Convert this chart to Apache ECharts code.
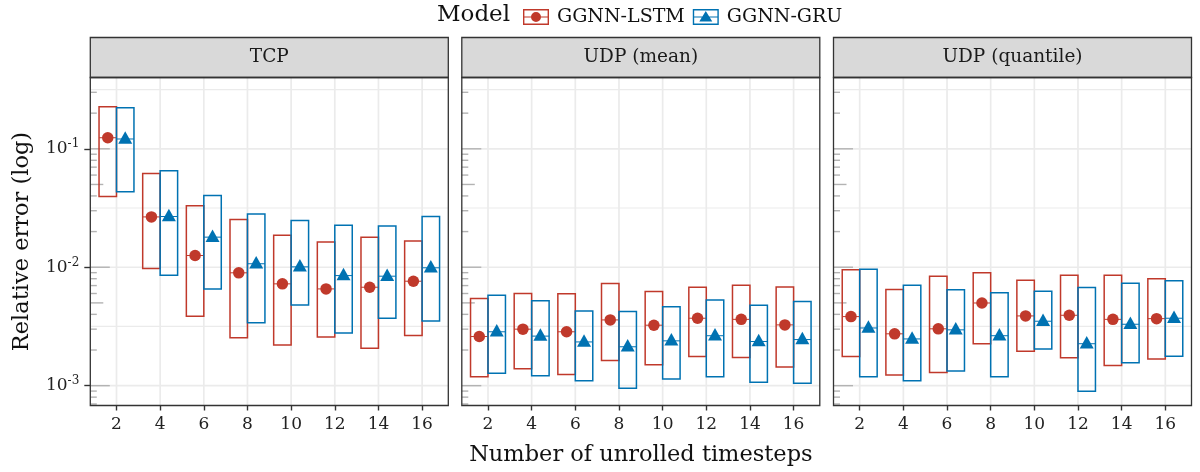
<!DOCTYPE html>
<html><head><meta charset="utf-8">
<script src="https://cdn.jsdelivr.net/npm/echarts@6/dist/echarts.min.js"></script>
<style>html,body{margin:0;padding:0;background:#fff}#c{width:1200px;height:472px}</style>
</head><body><div id="c"></div>
<script>
// ---------- data ----------
const categories = [2, 4, 6, 8, 10, 12, 14, 16];
const panelTitles = ['TCP', 'UDP (mean)', 'UDP (quantile)'];
const seriesNames = ['GGNN-LSTM', 'GGNN-GRU'];

const tcpLstmLow  = [0.0395, 0.00975, 0.00386, 0.00254, 0.0022, 0.00258, 0.00207, 0.00265];
const tcpLstmMid  = [0.124, 0.0266, 0.01256, 0.00897, 0.00724, 0.00656, 0.00678, 0.00762];
const tcpLstmHigh = [0.2265, 0.0618, 0.033, 0.0253, 0.01866, 0.01637, 0.01795, 0.01667];
const tcpGruLow   = [0.0434, 0.00855, 0.00656, 0.0034, 0.0048, 0.00279, 0.00371, 0.00352];
const tcpGruMid   = [0.121, 0.0268, 0.01795, 0.0107, 0.01007, 0.0085, 0.0084, 0.00989];
const tcpGruHigh  = [0.222, 0.0652, 0.0403, 0.0281, 0.0248, 0.0226, 0.0223, 0.0268];

const udpMeanLstmLow  = [0.00119, 0.00139, 0.00124, 0.00163, 0.0015, 0.00176, 0.00173, 0.00144];
const udpMeanLstmMid  = [0.0026, 0.0030, 0.00285, 0.00359, 0.00324, 0.00371, 0.00363, 0.00326];
const udpMeanLstmHigh = [0.00545, 0.0060, 0.00597, 0.00728, 0.00624, 0.00678, 0.00705, 0.00682];
const udpMeanGruLow   = [0.00127, 0.00121, 0.0011, 0.00095, 0.00114, 0.00119, 0.00107, 0.00105];
const udpMeanGruMid   = [0.00285, 0.00262, 0.00234, 0.00213, 0.00239, 0.00264, 0.00236, 0.00245];
const udpMeanGruHigh  = [0.00581, 0.0052, 0.00428, 0.00423, 0.00463, 0.0053, 0.00478, 0.00513];

const udpQuantLstmLow  = [0.00176, 0.00123, 0.00129, 0.00226, 0.00195, 0.00172, 0.00148, 0.00168];
const udpQuantLstmMid  = [0.00383, 0.00274, 0.00302, 0.00499, 0.00388, 0.00393, 0.00363, 0.00368];
const udpQuantLstmHigh = [0.0095, 0.00649, 0.0084, 0.00897, 0.00776, 0.00857, 0.00857, 0.00798];
const udpQuantGruLow   = [0.00119, 0.0011, 0.00133, 0.00119, 0.00204, 0.000896, 0.00156, 0.00177];
const udpQuantGruMid   = [0.00307, 0.00248, 0.00296, 0.00264, 0.0035, 0.00226, 0.0033, 0.00371];
const udpQuantGruHigh  = [0.0096, 0.00705, 0.00644, 0.00608, 0.00627, 0.00673, 0.00733, 0.00768];

const yTickValues = [0.001, 0.01, 0.1];
const yGridValues = [0.001, 0.003162, 0.01, 0.03162, 0.1, 0.3162];
const logTickValues = [0.0007, 0.0008, 0.0009,
  0.001, 0.002, 0.003, 0.004, 0.005, 0.006, 0.007, 0.008, 0.009,
  0.01, 0.02, 0.03, 0.04, 0.05, 0.06, 0.07, 0.08, 0.09,
  0.1, 0.2, 0.3];

// ---------- styling / layout ----------
const FONT = "'DejaVu Serif', serif";
const RED = '#c0392b', BLUE = '#0072b2';
const gridLefts = [90.3, 461.8, 833.5];
const gridTop = 77.5, gridW = 358, gridH = 328, stripH = 40;
const Y_MIN = 0.00068, Y_MAX = 0.4, X_MIN = 0.8, X_MAX = 17.2;
const DODGE = 0.4, HALF = 0.4;

const panelData = [
  [[tcpLstmLow, tcpLstmMid, tcpLstmHigh], [tcpGruLow, tcpGruMid, tcpGruHigh]],
  [[udpMeanLstmLow, udpMeanLstmMid, udpMeanLstmHigh], [udpMeanGruLow, udpMeanGruMid, udpMeanGruHigh]],
  [[udpQuantLstmLow, udpQuantLstmMid, udpQuantLstmHigh], [udpQuantGruLow, udpQuantGruMid, udpQuantGruHigh]]
];

function boxRenderer(color, offset) {
  return function (params, api) {
    const x = api.value(0) + offset;
    const lo = api.value(1), mid = api.value(2), hi = api.value(3);
    const a = api.coord([x - HALF, hi]);
    const b = api.coord([x + HALF, lo]);
    const m = api.coord([x - HALF, mid]);
    const n = api.coord([x + HALF, mid]);
    return {
      type: 'group', children: [
        { type: 'rect', shape: { x: a[0], y: a[1], width: b[0] - a[0], height: b[1] - a[1] },
          style: { fill: 'transparent', stroke: color, lineWidth: 1.5 } },
        { type: 'line', shape: { x1: m[0], y1: m[1], x2: n[0], y2: n[1] },
          style: { stroke: color, lineWidth: 1 } }
      ]
    };
  };
}

function isDecade(v) {
  const l = Math.log10(v);
  return Math.abs(l - Math.round(l)) < 0.01;
}

const grids = [], xAxes = [], yAxes = [], series = [], graphics = [];
gridLefts.forEach((left, k) => {
  grids.push({ left: left, top: gridTop, width: gridW, height: gridH, show: false });
  xAxes.push({
    type: 'value', gridIndex: k, min: X_MIN, max: X_MAX,
    axisLine: { show: false }, splitLine: { show: false },
    axisTick: { show: true, length: 5, lineStyle: { color: '#333', width: 1.4 }, customValues: categories },
    axisLabel: { show: true, customValues: categories, margin: 11,
      fontFamily: FONT, fontSize: 17, color: '#222' }
  });
  yAxes.push({
    type: 'log', logBase: 10, gridIndex: k, min: Y_MIN, max: Y_MAX,
    axisLine: { show: false }, splitLine: { show: false },
    axisTick: { show: k === 0, length: 6, lineStyle: { color: '#333', width: 1.4 }, customValues: yTickValues },
    axisLabel: {
      show: k === 0, customValues: yTickValues, margin: 11,
      formatter: v => '{b|10}{s|' + Math.round(Math.log10(v)) + '}',
      rich: {
        b: { fontFamily: FONT, fontSize: 17, color: '#222' },
        s: { fontFamily: FONT, fontSize: 12, color: '#222', padding: [0, 0, 9, 0] }
      }
    }
  });
  // horizontal grid lines
  series.push({
    type: 'custom', xAxisIndex: k, yAxisIndex: k, z: 0, silent: true,
    data: yGridValues.map(v => [X_MIN, v]),
    renderItem: (params, api) => {
      const v = api.value(1);
      const y = api.coord([X_MIN, v])[1];
      const cs = params.coordSys;
      return { type: 'line', shape: { x1: cs.x, y1: y, x2: cs.x + cs.width, y2: y },
        style: { stroke: '#ebebeb', lineWidth: isDecade(v) ? 1.7 : 1.2 } };
    }
  });
  // vertical grid lines
  series.push({
    type: 'custom', xAxisIndex: k, yAxisIndex: k, z: 0, silent: true,
    data: categories.map(c => [c, 0.01]),
    renderItem: (params, api) => {
      const x = api.coord([api.value(0), 0.01])[0];
      const cs = params.coordSys;
      return { type: 'line', shape: { x1: x, y1: cs.y, x2: x, y2: cs.y + cs.height },
        style: { stroke: '#ebebeb', lineWidth: 1.7 } };
    }
  });
  // log ticks
  series.push({
    type: 'custom', xAxisIndex: k, yAxisIndex: k, z: 1, silent: true,
    data: logTickValues.map(v => [X_MIN, v]),
    renderItem: (params, api) => {
      const v = api.value(1);
      const y = api.coord([X_MIN, v])[1];
      const cs = params.coordSys;
      const mant = Math.round(v / Math.pow(10, Math.floor(Math.log10(v) + 1e-9)));
      const len = mant === 1 ? 19.5 : (mant === 5 ? 13 : 6.5);
      return { type: 'line', shape: { x1: cs.x, y1: y, x2: cs.x + len, y2: y },
        style: { stroke: '#b3b3b3', lineWidth: 1.4 } };
    }
  });
  const [lstm, gru] = panelData[k];
  [[lstm, RED, -DODGE, seriesNames[0]], [gru, BLUE, DODGE, seriesNames[1]]].forEach(([arr, color, off, name]) => {
    series.push({
      type: 'custom', name: name, xAxisIndex: k, yAxisIndex: k, z: 2, silent: true,
      itemStyle: { color: color },
      encode: { x: 0, y: [1, 2, 3] },
      data: categories.map((c, i) => [c, arr[0][i], arr[1][i], arr[2][i]]),
      renderItem: boxRenderer(color, off)
    });
  });
  series.push({
    type: 'scatter', name: seriesNames[0], xAxisIndex: k, yAxisIndex: k, z: 3, silent: true,
    symbol: 'circle', symbolSize: 11.5, itemStyle: { color: RED, opacity: 1 },
    data: categories.map((c, i) => [c - DODGE, lstm[1][i]])
  });
  series.push({
    type: 'scatter', name: seriesNames[1], xAxisIndex: k, yAxisIndex: k, z: 3, silent: true,
    symbol: 'triangle', symbolSize: [14, 12.5], symbolOffset: [0, -1.5], itemStyle: { color: BLUE, opacity: 1 },
    data: categories.map((c, i) => [c + DODGE, gru[1][i]])
  });
  // strip + border
  graphics.push({ type: 'rect', z: 50, shape: { x: left, y: gridTop - stripH, width: gridW, height: stripH },
    style: { fill: '#d9d9d9', stroke: '#333', lineWidth: 1.3 } });
  graphics.push({ type: 'text', z: 51, x: left + gridW / 2, y: gridTop - stripH / 2,
    style: { text: panelTitles[k], font: "18.5px " + FONT, fill: '#1a1a1a',
      align: 'center', verticalAlign: 'middle', textAlign: 'center', textVerticalAlign: 'middle' } });
  graphics.push({ type: 'rect', z: 50, shape: { x: left, y: gridTop, width: gridW, height: gridH },
    style: { fill: 'none', stroke: '#333', lineWidth: 1.3 } });
});

graphics.push({ type: 'text', z: 51, x: 22, y: gridTop + gridH / 2, rotation: Math.PI / 2,
  style: { text: 'Relative error (log)', font: "22.5px " + FONT, fill: '#111',
    align: 'center', verticalAlign: 'middle', textAlign: 'center', textVerticalAlign: 'middle' } });
graphics.push({ type: 'text', z: 51, x: (gridLefts[0] + gridLefts[2] + gridW) / 2, y: 455,
  style: { text: 'Number of unrolled timesteps', font: "22.5px " + FONT, fill: '#111',
    align: 'center', verticalAlign: 'middle', textAlign: 'center', textVerticalAlign: 'middle' } });
graphics.push({ type: 'text', z: 51, x: 437, y: 15.5,
  style: { text: 'Model', font: "23px " + FONT, fill: '#111',
    align: 'left', verticalAlign: 'middle', textAlign: 'left', textVerticalAlign: 'middle' } });

const iconLstm = 'path://M0,0H26V16H0Z M1.4,1.4V14.6H24.6V1.4Z M1.4,7.5H24.6V8.5H1.4Z M8,8A5,5 0 1,1 18,8A5,5 0 1,1 8,8Z';
const iconGru = 'path://M0,0H26V16H0Z M1.4,1.4V14.6H24.6V1.4Z M1.4,7.5H24.6V8.5H1.4Z M6.5,12.5L13,2L19.5,12.5Z';

const option = {
  animation: false,
  backgroundColor: '#ffffff',
  grid: grids, xAxis: xAxes, yAxis: yAxes, series: series,
  legend: {
    left: 523, top: 7.5, padding: 0, itemWidth: 26, itemHeight: 16, itemGap: 8,
    selectedMode: false,
    data: [{ name: seriesNames[0], icon: iconLstm }, { name: seriesNames[1], icon: iconGru }],
    textStyle: { fontFamily: FONT, fontSize: 19, color: '#111', padding: [0, 0, 0, 3] }
  },
  graphic: { elements: graphics }
};

const chart = echarts.init(document.getElementById('c'), null, { renderer: 'canvas' });
chart.setOption(option);
</script>
</body></html>
